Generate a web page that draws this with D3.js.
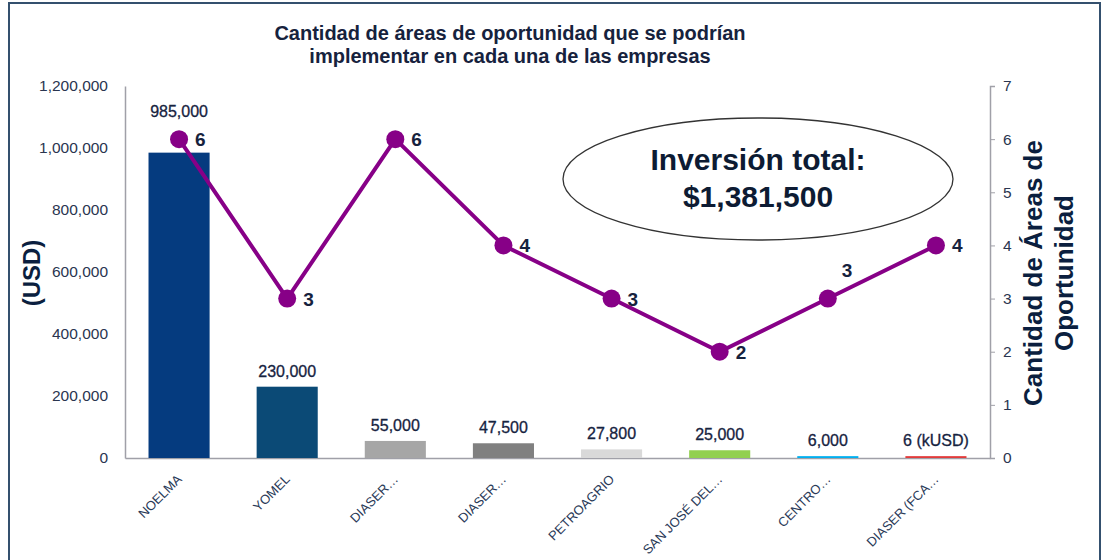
<!DOCTYPE html>
<html>
<head>
<meta charset="utf-8">
<script src="https://cdn.jsdelivr.net/npm/d3@7"></script>
<style>
  body { margin: 0; background: #fff; }
  svg { display: block; font-family: Arial, "Liberation Sans", sans-serif; }
</style>
</head>
<body>
<div id="chart"></div>
<script>
// Inversión y número de áreas de oportunidad por empresa

const categories = ['NOELMA', 'YOMEL', 'DIASER…', 'DIASER…', 'PETROAGRIO', 'SAN JOSÉ DEL…', 'CENTRO…', 'DIASER (FCA…'];
const inversion = [985000, 230000, 55000, 47500, 27800, 25000, 6000, 6000];
const inversionLabels = ['985,000', '230,000', '55,000', '47,500', '27,800', '25,000', '6,000', '6 (kUSD)'];
const areas = [6, 3, 6, 4, 3, 2, 3, 4];
const barColors = ['#053b7f', '#0b4a76', '#a6a6a6', '#808080', '#d9d9d9', '#92d050', '#00b0f0', '#e23b3b'];
const leftTicks = [0, 200000, 400000, 600000, 800000, 1000000, 1200000];
const rightTicks = [0, 1, 2, 3, 4, 5, 6, 7];
const titleLines = ['Cantidad de áreas de oportunidad que se podrían', 'implementar en cada una de las empresas'];

const width = 1108, height = 560;
const margin = { top: 86, right: 118, bottom: 102, left: 125 };
const textColor = '#16233f';

const svg = d3.select('#chart').append('svg')
    .attr('width', width)
    .attr('height', height);

// Marco exterior
svg.append('rect')
    .attr('x', 9).attr('y', 3)
    .attr('width', 1091).attr('height', 620)
    .attr('fill', 'none')
    .attr('stroke', '#34506e')
    .attr('stroke-width', 2);

// Escalas
const x = d3.scaleBand()
    .domain(d3.range(categories.length))
    .range([margin.left, width - margin.right])
    .paddingInner(0.435)
    .paddingOuter(0.2175);
const y = d3.scaleLinear().domain([0, 1200000]).range([height - margin.bottom, margin.top]);
const y2 = d3.scaleLinear().domain([0, 7]).range([height - margin.bottom, margin.top]);

// Título
svg.append('text')
    .attr('x', 510).attr('y', 40)
    .attr('text-anchor', 'middle')
    .attr('font-size', 20).attr('font-weight', 'bold')
    .attr('fill', '#16223d')
    .selectAll('tspan')
    .data(titleLines)
    .enter()
    .append('tspan')
    .attr('x', 510)
    .attr('dy', (d, i) => i === 0 ? 0 : 23)
    .text(d => d);

// Eje izquierdo
const leftAxis = svg.append('g')
    .attr('transform', `translate(${margin.left},0)`)
    .call(d3.axisLeft(y).tickValues(leftTicks).tickFormat(d3.format(',')).tickSize(0).tickPadding(17));
leftAxis.select('.domain').attr('stroke', '#a0a0a8').attr('stroke-width', 1.5);
leftAxis.selectAll('text').attr('font-size', 15.5).attr('fill', '#2a3550').attr('font-family', 'Arial, "Liberation Sans", sans-serif');

// Eje derecho
const rightAxis = svg.append('g')
    .attr('transform', `translate(${width - margin.right},0)`)
    .call(d3.axisRight(y2).tickValues(rightTicks).tickFormat(d3.format('d')).tickSizeInner(5).tickSizeOuter(5).tickPadding(8));
rightAxis.select('.domain').attr('stroke', '#a0a0a8').attr('stroke-width', 1.5);
rightAxis.selectAll('line').attr('stroke', '#a0a0a8');
rightAxis.selectAll('text').attr('font-size', 15.5).attr('fill', '#2a3550').attr('font-family', 'Arial, "Liberation Sans", sans-serif');

// Eje inferior (categorías)
const bottomAxis = svg.append('g')
    .attr('transform', `translate(0,${height - margin.bottom})`)
    .call(d3.axisBottom(x).tickFormat(i => categories[i]).tickSize(0).tickSizeOuter(0));
bottomAxis.select('.domain').attr('stroke', '#a0a0a8').attr('stroke-width', 1.5);
bottomAxis.selectAll('text')
    .attr('font-size', 13)
    .attr('fill', '#2a3a58')
    .attr('font-family', 'Arial, "Liberation Sans", sans-serif')
    .attr('text-anchor', 'end')
    .attr('y', 0).attr('dy', 0)
    .attr('transform', `translate(${x.bandwidth() / 2 - 27},22) rotate(-45)`);

// Barras
svg.selectAll('rect.bar')
    .data(inversion)
    .enter()
    .append('rect')
    .attr('class', 'bar')
    .attr('x', (d, i) => x(i))
    .attr('y', d => y(d))
    .attr('width', x.bandwidth())
    .attr('height', d => y(0) - y(d))
    .attr('fill', (d, i) => barColors[i]);

// Etiquetas de las barras (si chocan con el marcador, se suben)
svg.selectAll('text.bar-label')
    .data(inversion)
    .enter()
    .append('text')
    .attr('class', 'bar-label')
    .attr('x', (d, i) => x(i) + x.bandwidth() / 2)
    .attr('y', (d, i) => {
        const base = y(d) - 10;
        const py = y2(areas[i]);
        return (base > py - 22 && base < py + 30) ? py - 22 : base;
    })
    .attr('text-anchor', 'middle')
    .attr('font-size', 16)
    .attr('fill', textColor)
    .attr('stroke', textColor)
    .attr('stroke-width', 0.3)
    .text((d, i) => inversionLabels[i]);

// Línea de áreas de oportunidad
const cx = i => x(i) + x.bandwidth() / 2;
svg.append('path')
    .datum(areas)
    .attr('d', d3.line().x((d, i) => cx(i)).y(d => y2(d)))
    .attr('fill', 'none')
    .attr('stroke', '#870087')
    .attr('stroke-width', 4);

svg.selectAll('circle.pt')
    .data(areas)
    .enter()
    .append('circle')
    .attr('class', 'pt')
    .attr('cx', (d, i) => cx(i))
    .attr('cy', d => y2(d))
    .attr('r', 9)
    .attr('fill', '#870087');

// Etiquetas de la línea: arriba si el tramo sube por ambos lados
const isRising = i => i > 0 && i < areas.length - 1 && areas[i - 1] < areas[i] && areas[i + 1] > areas[i];
svg.selectAll('text.pt-label')
    .data(areas)
    .enter()
    .append('text')
    .attr('class', 'pt-label')
    .attr('x', (d, i) => cx(i) + (isRising(i) ? 14 : 16))
    .attr('y', (d, i) => y2(d) + (isRising(i) ? -22 : 7))
    .attr('font-size', 19)
    .attr('font-weight', 'bold')
    .attr('fill', '#16223d')
    .text(d => d);

// Títulos de ejes
svg.append('text')
    .attr('transform', 'translate(40,273) rotate(-90)')
    .attr('text-anchor', 'middle')
    .attr('font-size', 24).attr('font-weight', 'bold')
    .attr('fill', '#0b1f3f')
    .text('(USD)');

svg.append('text')
    .attr('transform', 'translate(1042,273) rotate(-90)')
    .attr('text-anchor', 'middle')
    .attr('font-size', 26).attr('font-weight', 'bold')
    .attr('fill', '#0b1f3f')
    .selectAll('tspan')
    .data(['Cantidad de Áreas de', 'Oportunidad'])
    .enter()
    .append('tspan')
    .attr('x', 0)
    .attr('dy', (d, i) => i === 0 ? 0 : 31)
    .text(d => d);

// Óvalo con la inversión total
svg.append('ellipse')
    .attr('cx', 758).attr('cy', 179)
    .attr('rx', 195).attr('ry', 61)
    .attr('fill', '#fff')
    .attr('stroke', '#333')
    .attr('stroke-width', 1.3);

svg.append('text')
    .attr('x', 758).attr('y', 170)
    .attr('text-anchor', 'middle')
    .attr('font-size', 30).attr('font-weight', 'bold')
    .attr('fill', '#0d1b33')
    .text('Inversión total:');
svg.append('text')
    .attr('x', 758).attr('y', 207)
    .attr('text-anchor', 'middle')
    .attr('font-size', 30).attr('font-weight', 'bold')
    .attr('fill', '#0d1b33')
    .text('$1,381,500');
</script>
</body>
</html>
